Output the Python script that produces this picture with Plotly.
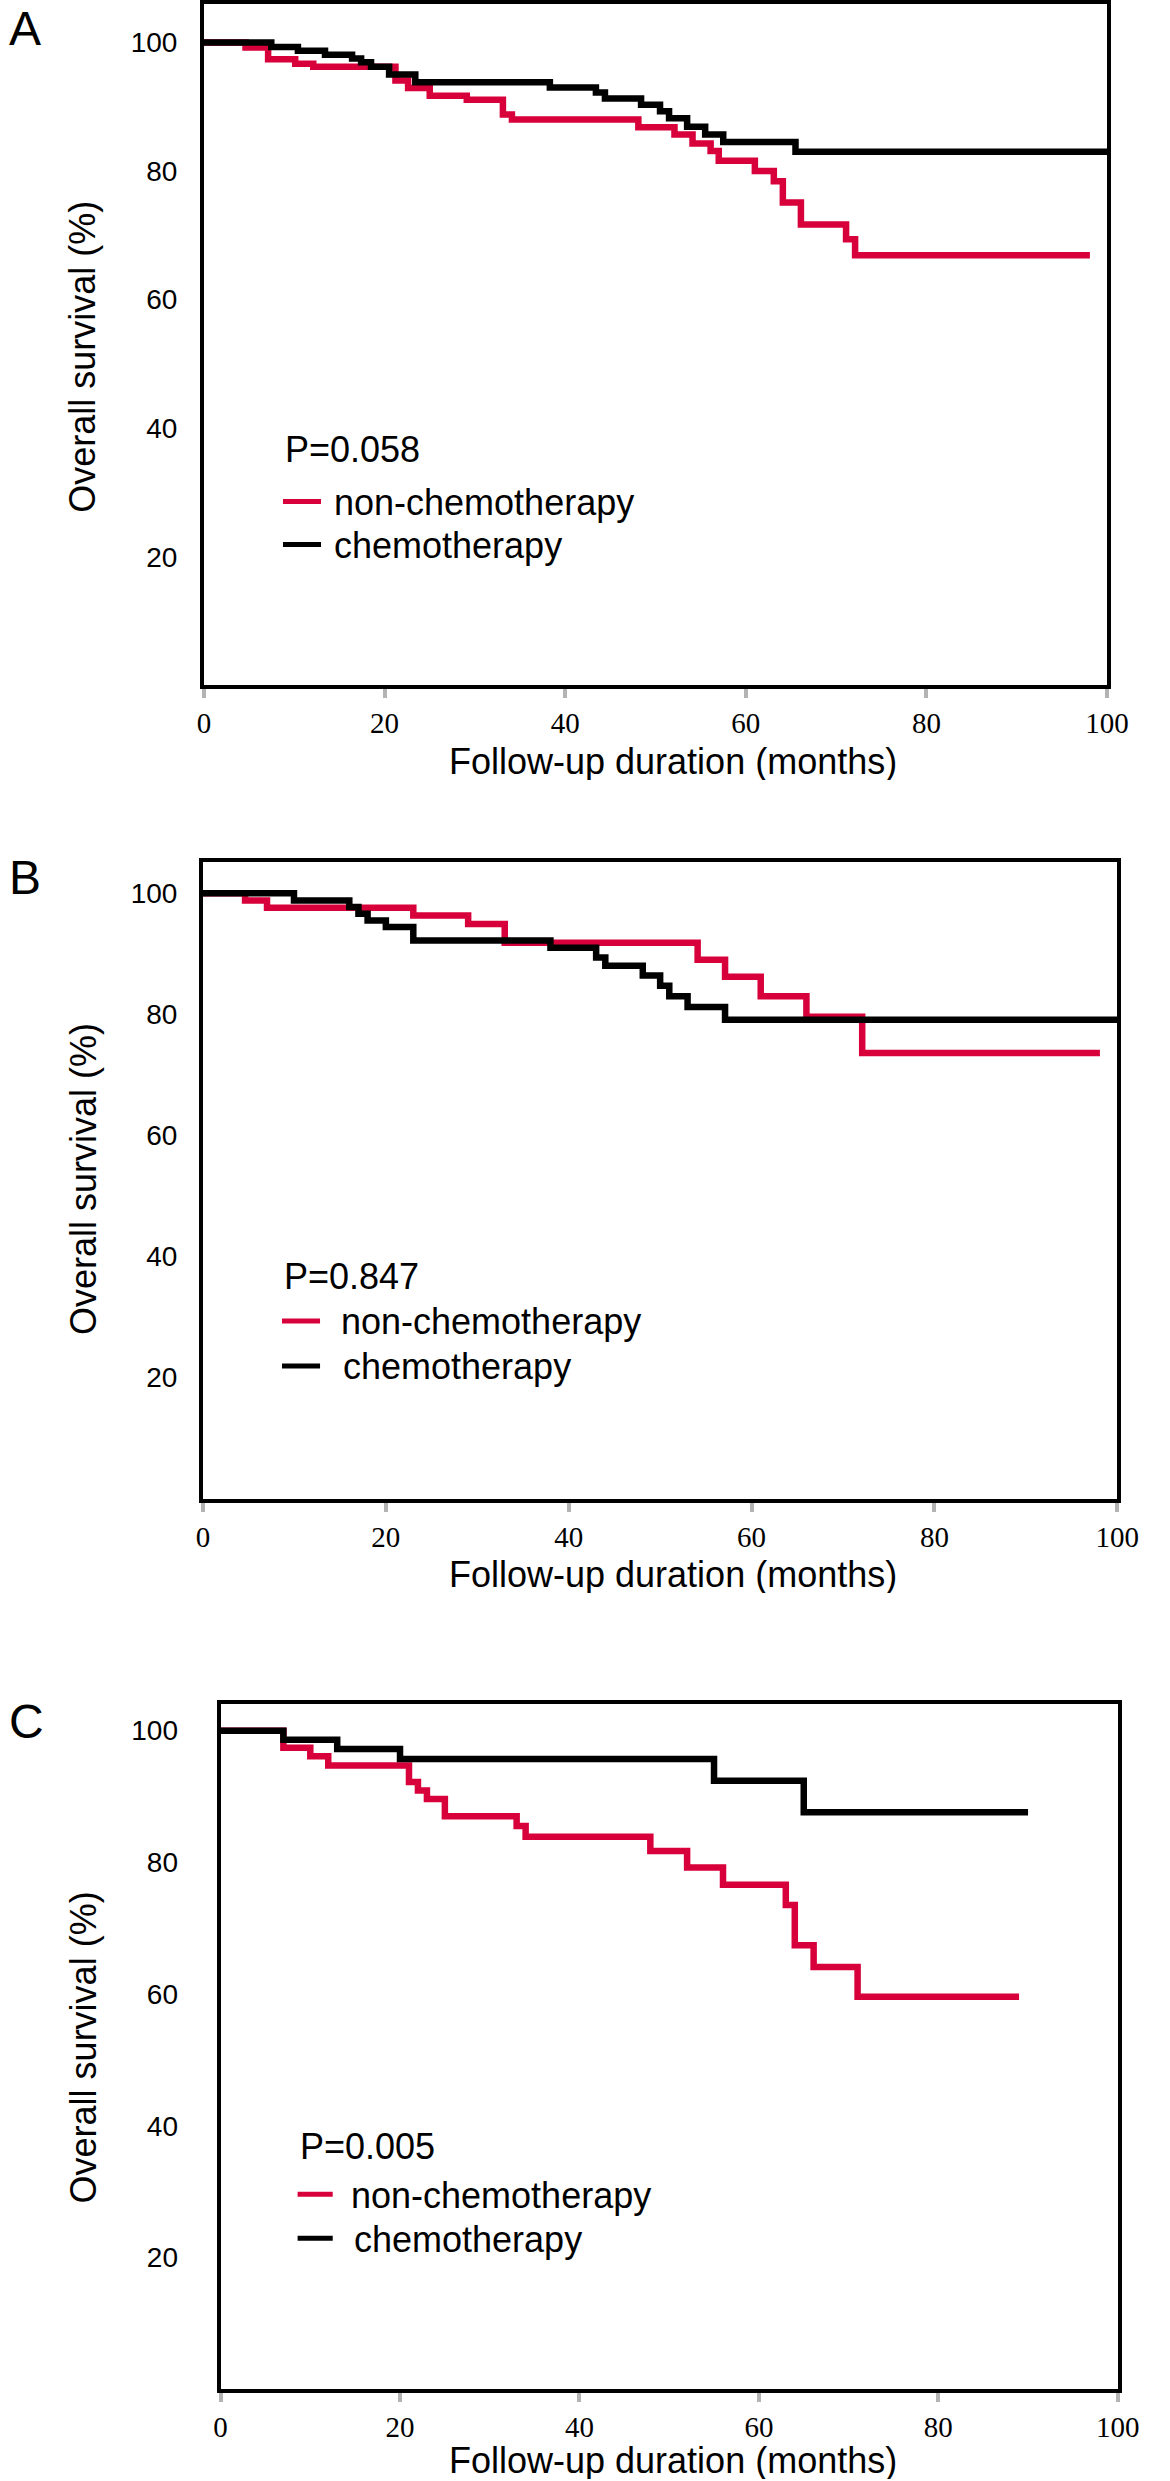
import plotly.graph_objects as go

W, H = 1170, 2481

# ---------------- data ----------------
# Panel A
a_non_t = [0, 4.6, 7.1, 10.1, 12.1, 21.2, 22.6, 25.0, 29.1, 33.1, 34.1, 48.1, 52.1, 54.1,
           56.1, 57.0, 61.0, 63.1, 64.1, 66.1, 71.1, 72.1, 98.1]
a_non_s = [100, 99.2, 97.4, 96.7, 96.2, 94.1, 92.9, 91.7, 91.1, 88.8, 88.0, 86.8, 85.7, 84.3,
           83.1, 81.6, 80.0, 78.4, 75.1, 71.7, 69.4, 66.9, 66.9]
a_che_t = [0, 7.45, 10.4, 13.4, 16.4, 17.4, 18.5, 20.5, 23.4, 38.3, 43.4, 44.4, 48.4, 50.5,
           51.5, 53.5, 55.5, 57.5, 65.5, 100]
a_che_s = [100, 99.3, 98.7, 98.1, 97.5, 96.9, 96.2, 95.0, 93.8, 93.0, 92.2, 91.3, 90.3, 89.3,
           88.2, 86.9, 85.7, 84.5, 83.0, 83.0]
# Panel B
b_non_t = [0, 4.6, 7.0, 23.0, 29.0, 33.0, 54.1, 57.1, 61.0, 66.0, 72.1, 98.1]
b_non_s = [100, 98.8, 97.6, 96.3, 94.9, 91.8, 89.0, 86.2, 83.0, 79.6, 73.6, 73.6]
b_che_t = [0, 9.95, 16.0, 17.0, 18.0, 20.0, 23.0, 38.0, 43.0, 44.0, 48.1, 50.0, 51.0, 53.0, 57.1, 100]
b_che_s = [100, 98.8, 97.7, 96.6, 95.5, 94.4, 92.2, 91.0, 89.4, 88.0, 86.4, 84.7, 83.0, 81.2, 79.1, 79.1]
# Panel C
c_non_t = [0, 7.0, 10.0, 12.0, 21.0, 22.0, 23.0, 25.0, 33.0, 34.0, 47.9, 52.0, 56.0, 63.0,
           64.0, 66.1, 71.0, 89.0]
c_non_s = [100, 97.4, 96.1, 94.7, 92.2, 90.9, 89.6, 87.0, 85.5, 83.9, 81.7, 79.2, 76.6, 73.5,
           67.4, 64.1, 59.6, 59.6]
c_che_t = [0, 7.0, 13.0, 20.0, 55.0, 65.0, 90.0]
c_che_s = [100, 98.6, 97.2, 95.7, 92.4, 87.6, 87.6]

p_values = ["P=0.058", "P=0.847", "P=0.005"]
panel_letters = ["A", "B", "C"]
group_names = ["non-chemotherapy", "chemotherapy"]
x_ticks = [0, 20, 40, 60, 80, 100]
y_ticks = [20, 40, 60, 80, 100]

RED = "#D7003A"
BLACK = "#000000"
SANS = "Liberation Sans, Arial, sans-serif"
SERIF = "Liberation Serif, Times New Roman, serif"


def px_x(p):
    return p / W


def px_y(p):
    return 1 - p / H


# layout geometry (pixels) per panel
panels = [
    dict(l=202, r=1128, t=2.5, b=684, ymax=105.9, ystand=17,
         p=(283, 448), line=(283, 322), txt=(333, 333), rows=(500, 543),
         ytitle=355, xtitle=760, letter=27),
    dict(l=201, r=1138.5, t=861, b=1498, ymax=105.1, ystand=16,
         p=(282, 1276), line=(282, 321), txt=(340, 342), rows=(1320, 1365),
         ytitle=1178, xtitle=1573, letter=876),
    dict(l=219, r=1139, t=1703, b=2389, ymax=104.1, ystand=33,
         p=(298, 2146), line=(298, 334), txt=(351, 354), rows=(2194, 2238),
         ytitle=2047, xtitle=2460, letter=1721),
]
data = [
    (a_non_t, a_non_s, a_che_t, a_che_s),
    (b_non_t, b_non_s, b_che_t, b_che_s),
    (c_non_t, c_non_s, c_che_t, c_che_s),
]

fig = go.Figure()
annotations = []
shapes = []
layout_upd = {}


def text_ann(text, x, y, size=36, xanchor="left", yanchor="middle", angle=0, family=SANS, **kw):
    d = dict(text=text, x=px_x(x), y=px_y(y), xref="paper", yref="paper",
             xanchor=xanchor, yanchor=yanchor, showarrow=False, textangle=angle,
             font=dict(family=family, size=size, color="black"))
    d.update(kw)
    return d


for i, (pan, d) in enumerate(zip(panels, data)):
    k = "" if i == 0 else str(i + 1)
    xa, ya = f"x{k}", f"y{k}"
    nt, ns, ct, cs = d
    fig.add_trace(go.Scatter(x=nt, y=ns, mode="lines", line=dict(color=RED, width=6.5, shape="hv"),
                             name=group_names[0], xaxis=xa, yaxis=ya, showlegend=False))
    fig.add_trace(go.Scatter(x=ct, y=cs, mode="lines", line=dict(color=BLACK, width=6.5, shape="hv"),
                             name=group_names[1], xaxis=xa, yaxis=ya, showlegend=False))

    layout_upd[f"xaxis{k}"] = dict(
        domain=[px_x(pan["l"]), px_x(pan["r"])], range=[0, 100], anchor=ya,
        tickvals=x_ticks, ticktext=[str(v) for v in x_ticks],
        showline=True, linecolor="black", linewidth=4, mirror=True,
        ticks="outside", ticklen=9, tickwidth=4, tickcolor="#b3b3b3",
        tickfont=dict(family=SERIF, size=29, color="black"),
        showgrid=False, zeroline=False, fixedrange=True,
    )
    layout_upd[f"yaxis{k}"] = dict(
        domain=[px_y(pan["b"]), px_y(pan["t"])], range=[0, pan["ymax"]], anchor=xa,
        tickvals=y_ticks, ticktext=[str(v) for v in y_ticks],
        showline=True, linecolor="black", linewidth=4, mirror=True,
        ticks="", ticklabelstandoff=pan["ystand"],
        tickfont=dict(family=SANS, size=28, color="black"),
        showgrid=False, zeroline=False, fixedrange=True,
    )

    # key: P-value and the two group samples
    annotations.append(text_ann(p_values[i], pan["p"][0], pan["p"][1]))
    for j, col in enumerate([RED, BLACK]):
        yrow = pan["rows"][j]
        shapes.append(dict(type="line", xref="paper", yref="paper",
                           x0=px_x(pan["line"][0]), x1=px_x(pan["line"][1]),
                           y0=px_y(yrow), y1=px_y(yrow), line=dict(color=col, width=5)))
        annotations.append(text_ann(group_names[j], pan["txt"][j], yrow + 1))

    annotations.append(text_ann(panel_letters[i], 0, pan["letter"], size=48))
    annotations.append(text_ann("Overall survival (%)", 78, pan["ytitle"], xanchor="center", angle=-90))
    annotations.append(text_ann("Follow-up duration (months)", 683, pan["xtitle"], xanchor="center",
                                height=38, valign="middle"))

fig.update_layout(
    width=W, height=H, margin=dict(l=0, r=0, t=0, b=0),
    paper_bgcolor="white", plot_bgcolor="white",
    showlegend=False, annotations=annotations, shapes=shapes, **layout_upd,
)

fig.write_html("out.html", config={"displayModeBar": False},
               post_script="document.body.style.margin='0px';document.body.style.overflow='hidden';")
